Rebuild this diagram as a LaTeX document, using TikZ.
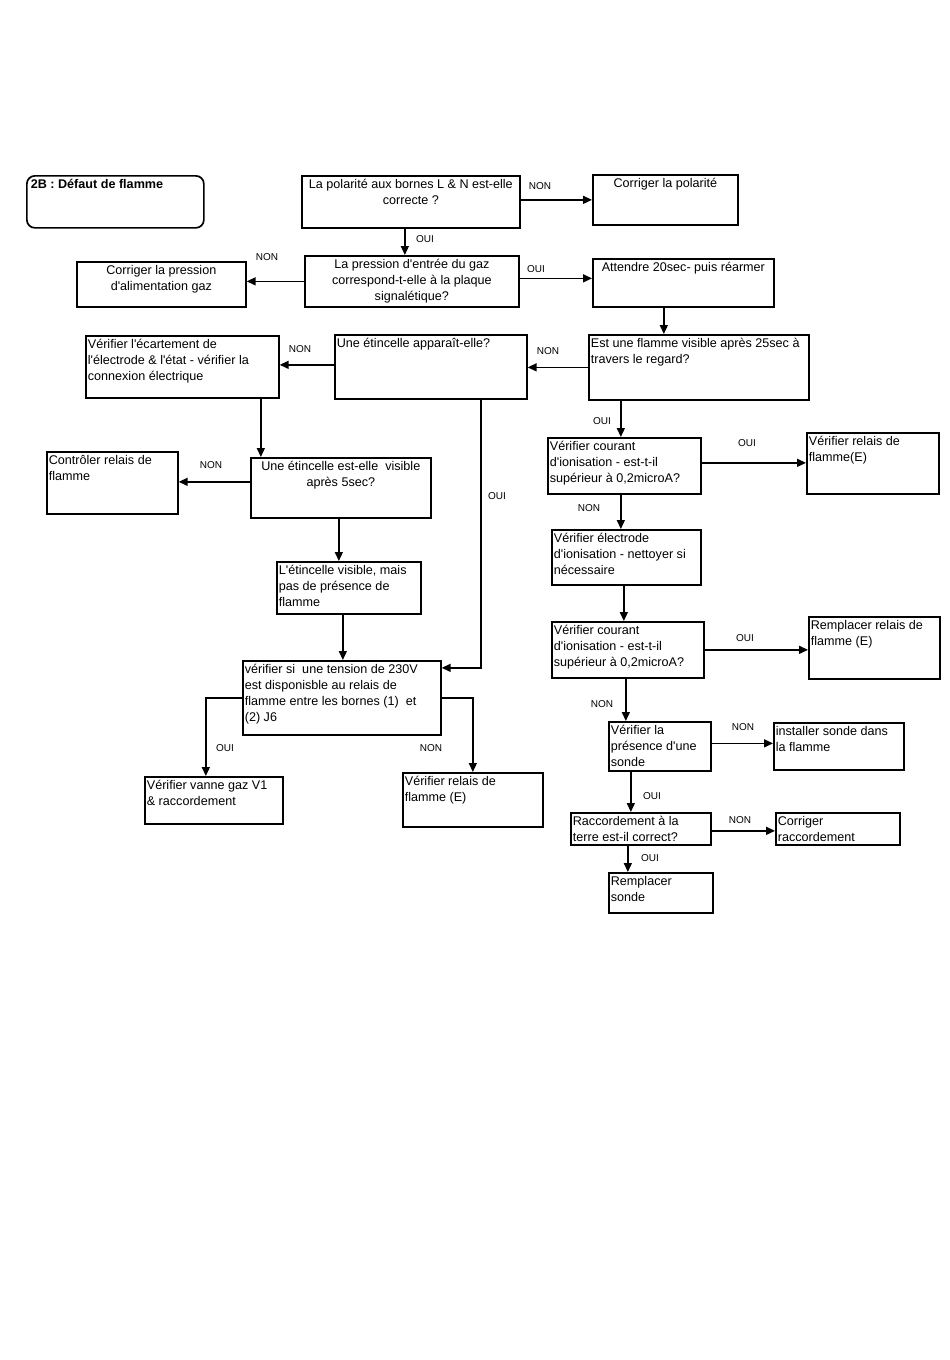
\documentclass[tikz,border=0pt]{standalone}
\usepackage{fontspec}
\setmainfont{Liberation Sans}
\usetikzlibrary{arrows.meta}
\newcommand{\bt}[4][\raggedright]{\begin{minipage}[c][#3pt][t]{\dimexpr#2pt-4pt\relax}#1\vspace*{1.5pt}\strut #4\end{minipage}}
\newcommand{\q}{\textquotesingle}

\begin{document}
\begin{tikzpicture}[x=1pt,y=-1pt,
  box/.style={draw,line width=1.7pt,anchor=north west,inner xsep=2pt,inner ysep=0pt,font=\fontsize{12.6}{16}\selectfont},
  lbl/.style={font=\fontsize{10}{12}\selectfont},
  arr/.style={line width=1.5pt,-{Triangle[length=9pt,width=8pt]}}]
        \useasboundingbox (0,0) rectangle (950,1360);
        \node[box,rounded corners=8pt](title) at (26,175) {\bt{177}{52}{\hspace*{2pt}\textbf{2B : Défaut de flamme}}};
        \node[box](pol) at (301,175) {\bt[\centering]{218}{52}{La polarité aux bornes L \& N est-elle\\ correcte ?}};
        \node[box](corpol) at (592,174) {\bt[\centering]{145}{50}{Corriger la polarité}};
        \node[box](press) at (304,255) {\bt[\centering]{214}{51}{La pression d\q entrée du gaz\\ correspond-t-elle à la plaque\\ signalétique?}};
        \node[box](corpress) at (76,261) {\bt[\centering]{169}{45}{Corriger la pression\\ d\q alimentation gaz}};
        \node[box](attendre) at (592,258) {\bt[\centering]{181}{48}{Attendre 20sec- puis réarmer}};
        \node[box](flamme) at (588,334) {\bt{220}{65}{Est une flamme visible après 25sec à\\ travers le regard?}};
        \node[box](etinc) at (334,334) {\bt{192}{64}{Une étincelle apparaît-elle?}};
        \node[box](ecart) at (85,335) {\bt{193}{62}{Vérifier l\q écartement de\\ l\q électrode \& l\q état - vérifier la\\ connexion électrique}};
        \node[box](etincv) at (250,457) {\bt[\centering]{180}{60}{Une étincelle est-elle\ \ visible\\ après 5sec?}};
        \node[box](ctrlrel) at (46,451) {\bt{131}{62}{Contrôler relais de\\ flamme}};
        \node[box](visible) at (276,561) {\bt{144}{52}{L\q étincelle visible, mais\\ pas de présence de\\ flamme}};
        \node[box](tension) at (242,660) {\bt{198}{74}{vérifier si\ \ une tension de 230V\\ est disponisble au relais de\\ flamme entre les bornes (1)\ \ et\\ (2) J6}};
        \node[box](vanne) at (144,776) {\bt{138}{47}{Vérifier vanne gaz V1\\ \& raccordement}};
        \node[box](verrel) at (402,772) {\bt{140}{54}{Vérifier relais de\\ flamme (E)}};
        \node[box](courA) at (547,437) {\bt{153}{56}{Vérifier courant\\ d\q ionisation - est-t-il\\ supérieur à 0,2microA?}};
        \node[box](verrelE) at (806,432) {\bt{132}{61}{Vérifier relais de\\ flamme(E)}};
        \node[box](electr) at (551,529) {\bt{149}{55}{Vérifier électrode\\ d\q ionisation - nettoyer si\\ nécessaire}};
        \node[box](courB) at (551,621) {\bt{152}{56}{Vérifier courant\\ d\q ionisation - est-t-il\\ supérieur à 0,2microA?}};
        \node[box](remprel) at (808,616) {\bt{131}{62}{Remplacer relais de\\ flamme (E)}};
        \node[box](sonde) at (608,721) {\bt{102}{49}{Vérifier la\\ présence d\q une\\ sonde}};
        \node[box](install) at (773,722) {\bt{130}{47}{installer sonde dans\\ la flamme}};
        \node[box](terre) at (570,812) {\bt{140}{32}{Raccordement à la\\ terre est-il correct?}};
        \node[box](corrac) at (775,812) {\bt{124}{32}{Corriger\\ raccordement}};
        \node[box](rempsonde) at (608,872) {\bt{104}{40}{Remplacer\\ sonde}};
        \node[lbl](l1) at (540,186) {NON};
        \node[lbl](l2) at (425,239) {OUI};
        \node[lbl](l3) at (267,257) {NON};
        \node[lbl](l4) at (536,269) {OUI};
        \node[lbl](l5) at (548,351) {NON};
        \node[lbl](l6) at (300,349) {NON};
        \node[lbl](l7) at (211,465) {NON};
        \node[lbl](l8) at (497,496) {OUI};
        \node[lbl](l9) at (225,748) {OUI};
        \node[lbl](l10) at (431,748) {NON};
        \node[lbl](l11) at (602,421) {OUI};
        \node[lbl](l12) at (747,443) {OUI};
        \node[lbl](l13) at (589,508) {NON};
        \node[lbl](l14) at (745,638) {OUI};
        \node[lbl](l15) at (602,704) {NON};
        \node[lbl](l16) at (743,727) {NON};
        \node[lbl](l17) at (652,796) {OUI};
        \node[lbl](l18) at (740,820) {NON};
        \node[lbl](l19) at (650,858) {OUI};
        \draw[arr]([yshift=2pt]pol.east)--([yshift=2pt]pol.east -| corpol.west);
        \draw[arr]([xshift=-6pt]pol.south)--([xshift=-6pt]pol.south |- press.north);
        \draw[arr](press.west)--(press.west -| corpress.east);
        \draw[arr]([yshift=3pt]press.east)--([yshift=3pt]press.east -| attendre.west);
        \draw[arr]([xshift=-19.5pt]attendre.south)--([xshift=-19.5pt]attendre.south |- flamme.north);
        \draw[arr](flamme.west)--(flamme.west -| etinc.east);
        \draw[arr]([yshift=2pt]etinc.west)--([yshift=2pt]etinc.west -| ecart.east);
        \draw[arr]([xshift=78.5pt]ecart.south)--([xshift=78.5pt]ecart.south |- etincv.north);
        \draw[arr]([yshift=6pt]etincv.west)--([yshift=6pt]etincv.west -| ctrlrel.east);
        \draw[arr]([xshift=-2pt]etincv.south)--([xshift=-2pt]etincv.south |- visible.north);
        \draw[arr]([xshift=-6pt]visible.south)--([xshift=-6pt]visible.south |- tension.north);
        \draw[arr]([xshift=50pt]etinc.south)|-([yshift=30pt]tension.east);
        \draw[arr](tension.west)-|([xshift=-8pt]vanne.north);
        \draw[arr](tension.east)-|(verrel.north);
        \draw[arr]([xshift=-78pt]flamme.south)--([xshift=-78pt]flamme.south |- courA.north);
        \draw[arr]([yshift=3pt]courA.east)--([yshift=3pt]courA.east -| verrelE.west);
        \draw[arr]([xshift=-3.5pt]courA.south)--([xshift=-3.5pt]courA.south |- electr.north);
        \draw[arr]([xshift=-2.5pt]electr.south)--([xshift=-2.5pt]electr.south |- courB.north);
        \draw[arr](courB.east)--(courB.east -| remprel.west);
        \draw[arr]([xshift=-2pt]courB.south)--([xshift=-2pt]courB.south |- sonde.north);
        \draw[arr]([yshift=3pt]sonde.east)--([yshift=3pt]sonde.east -| install.west);
        \draw[arr]([xshift=-29pt]sonde.south)--([xshift=-29pt]sonde.south |- terre.north);
        \draw[arr]([yshift=-2pt]terre.east)--([yshift=-2pt]terre.east -| corrac.west);
        \draw[arr]([xshift=-13pt]terre.south)--([xshift=-13pt]terre.south |- rempsonde.north);
        \end{tikzpicture}
\end{document}
